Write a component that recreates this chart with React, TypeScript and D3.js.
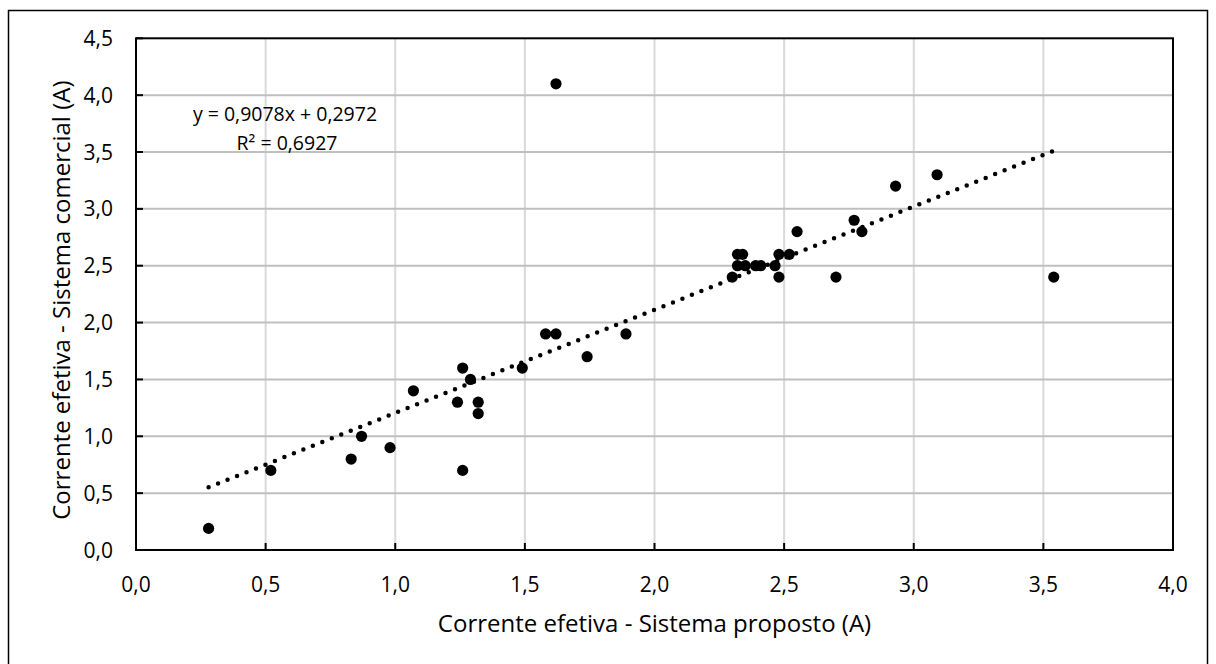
import React from "react";
import * as d3 from "d3";

const xValues = [0.28, 0.52, 0.83, 0.87, 0.98, 1.07, 1.24, 1.26, 1.26, 1.29, 1.32, 1.32, 1.49, 1.58, 1.62, 1.62, 1.74, 1.89, 2.30, 2.32, 2.32, 2.34, 2.35, 2.39, 2.41, 2.465, 2.48, 2.48, 2.52, 2.55, 2.70, 2.77, 2.80, 2.93, 3.09, 3.54];
const yValues = [0.19, 0.7, 0.8, 1.0, 0.9, 1.4, 1.3, 1.6, 0.7, 1.5, 1.3, 1.2, 1.6, 1.9, 1.9, 4.1, 1.7, 1.9, 2.4, 2.6, 2.5, 2.6, 2.5, 2.5, 2.5, 2.5, 2.6, 2.4, 2.6, 2.8, 2.4, 2.9, 2.8, 3.2, 3.3, 2.4];
const xTicks = [0, 0.5, 1, 1.5, 2, 2.5, 3, 3.5, 4];
const yTicks = [0, 0.5, 1, 1.5, 2, 2.5, 3, 3.5, 4, 4.5];
const slope = 0.9078;
const intercept = 0.2972;
const equationText = "y = 0,9078x + 0,2972";
const r2Text = "R² = 0,6927";
const xTitle = "Corrente efetiva - Sistema proposto (A)";
const yTitle = "Corrente efetiva - Sistema comercial (A)";

const W = 1216;
const H = 664;
const PL = 136, PR = 1173, PT = 38.3, PB = 550;
const FONT = "'Open Sans', sans-serif";

export default function App() {
  const x = d3.scaleLinear().domain([0, 4]).range([PL, PR]);
  const y = d3.scaleLinear().domain([0, 4.5]).range([PB, PT]);
  const fmt = (v: number) => d3.format(".1f")(v).replace(".", ",");
  const xMin = d3.min(xValues) as number;
  const xMax = d3.max(xValues) as number;
  const trend = d3.line<number>().x((v) => x(v)).y((v) => y(slope * v + intercept));
  const pts = xValues.map((v, i) => ({ x: v, y: yValues[i] }));

  return (
    <svg width={W} height={H} style={{ position: "absolute", left: 0, top: 0, background: "#fff" }} fontFamily={FONT}>
      <rect x={8.5} y={10.5} width={1199} height={700} fill="#fff" stroke="#000" strokeWidth={1.5} />
      {xTicks.slice(1, -1).map((t) => (
        <line key={"vx" + t} x1={x(t)} x2={x(t)} y1={PT} y2={PB} stroke="#d9d9d9" strokeWidth={2} />
      ))}
      {yTicks.slice(1, -1).map((t) => (
        <line key={"hy" + t} x1={PL} x2={PR} y1={y(t)} y2={y(t)} stroke="#bfbfbf" strokeWidth={2} />
      ))}
      {xTicks.map((t) => (
        <line key={"tx" + t} x1={x(t)} x2={x(t)} y1={PB} y2={PB - 7} stroke="#000" strokeWidth={2} />
      ))}
      {yTicks.map((t) => (
        <line key={"ty" + t} x1={PL} x2={PL + 7} y1={y(t)} y2={y(t)} stroke="#000" strokeWidth={2} />
      ))}
      <rect x={PL} y={PT} width={PR - PL} height={PB - PT} fill="none" stroke="#000" strokeWidth={2} />
      {xTicks.map((t) => (
        <text key={"lx" + t} x={x(t)} y={592} textAnchor="middle" fontSize={21} fill="#000">{fmt(t)}</text>
      ))}
      {yTicks.map((t) => (
        <text key={"ly" + t} x={113} y={y(t)} dy="0.36em" textAnchor="end" fontSize={21} fill="#000">{fmt(t)}</text>
      ))}
      <path d={trend([xMin, xMax]) || ""} fill="none" stroke="#000" strokeWidth={4.5} strokeLinecap="round" strokeDasharray="0 10.2" />
      {pts.map((p, i) => (
        <circle key={i} cx={x(p.x)} cy={y(p.y)} r={5.6} fill="#000" />
      ))}
      <text x={285} y={121} textAnchor="middle" fontSize={19.5} fill="#000">{equationText}</text>
      <text x={287} y={150} textAnchor="middle" fontSize={19.5} fill="#000">{r2Text}</text>
      <text x={(PL + PR) / 2} y={632} textAnchor="middle" fontSize={24} fill="#000">{xTitle}</text>
      <text transform={`translate(70,${(PT + PB) / 2 + 6}) rotate(-90)`} textAnchor="middle" fontSize={24} fill="#000">{yTitle}</text>
    </svg>
  );
}
